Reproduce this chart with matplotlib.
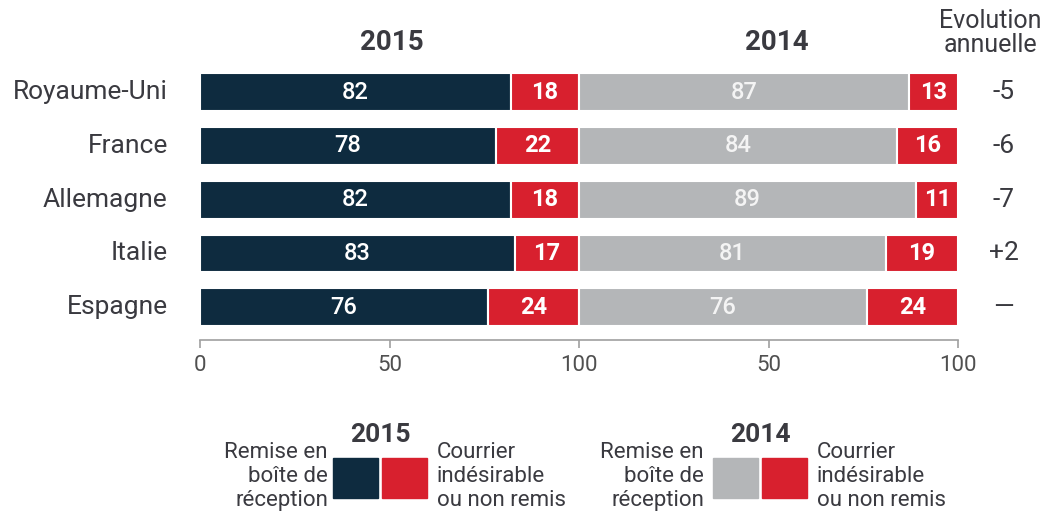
import matplotlib
matplotlib.use("Agg")
import matplotlib.pyplot as plt
from matplotlib.patches import Rectangle

# Chart data
countries = ["Royaume-Uni", "France", "Allemagne", "Italie", "Espagne"]
inbox_2015 = [82, 78, 82, 83, 76]
spam_2015 = [18, 22, 18, 17, 24]
inbox_2014 = [87, 84, 89, 81, 76]
spam_2014 = [13, 16, 11, 19, 24]
evolution = ["-5", "-6", "-7", "+2", "—"]
tick_pos = [0, 50, 100, 150, 200]
tick_labels = ["0", "50", "100", "50", "100"]

NAVY = "#0e2b3f"
RED = "#d8202e"
GREY = "#b4b6b8"
TEXT = "#3a3a40"

plt.rcParams["font.family"] = ["Roboto", "DejaVu Sans"]

fig = plt.figure(figsize=(10.47, 5.12), dpi=100)
ax = fig.add_axes([200 / 1047, 1 - 340 / 512, 758 / 1047, 280 / 512])

y = list(range(len(countries)))
h = 0.70
offset = 100  # right panel starts after the 2015 panel

ax.barh(y, inbox_2015, height=h, color=NAVY, edgecolor="white", linewidth=1.5)
ax.barh(y, spam_2015, left=inbox_2015, height=h, color=RED, edgecolor="white", linewidth=1.5)
ax.barh(y, inbox_2014, left=offset, height=h, color=GREY, edgecolor="white", linewidth=1.5)
ax.barh(y, spam_2014, left=[offset + v for v in inbox_2014], height=h,
        color=RED, edgecolor="white", linewidth=1.5)

for i in y:
    ax.text(inbox_2015[i] / 2, i, str(inbox_2015[i]), ha="center", va="center",
            color="white", fontsize=17, fontweight="medium")
    ax.text(inbox_2015[i] + spam_2015[i] / 2, i, str(spam_2015[i]), ha="center",
            va="center", color="white", fontsize=17, fontweight="bold")
    ax.text(offset + inbox_2014[i] / 2, i, str(inbox_2014[i]), ha="center",
            va="center", color="#f4f4f4", fontsize=17, fontweight="medium")
    ax.text(offset + inbox_2014[i] + spam_2014[i] / 2, i, str(spam_2014[i]),
            ha="center", va="center", color="white", fontsize=17, fontweight="bold")
    ax.text(-8.5, i, countries[i], ha="right", va="center", color=TEXT, fontsize=19)
    ax.text(212, i, evolution[i], ha="center", va="center", color=TEXT, fontsize=19)

ax.set_xlim(0, 200)
ax.set_ylim(len(countries) - 1 + 0.61, -0.6)
ax.set_xticks(tick_pos)
ax.set_xticklabels(tick_labels)
ax.set_yticks([])
for s in ["top", "right", "left"]:
    ax.spines[s].set_visible(False)
ax.spines["bottom"].set_color("#a0a0a0")
ax.spines["bottom"].set_linewidth(1.2)
ax.tick_params(axis="x", colors="#a0a0a0", length=6, width=1.2, labelsize=16,
               labelcolor="#505050", pad=5)
ax.spines["bottom"].set_bounds(0, 200)

# column headers
fig.text(392 / 1047, 1 - 42 / 512, "2015", ha="center", va="center",
         fontsize=20, fontweight="bold", color=TEXT)
fig.text(777 / 1047, 1 - 42 / 512, "2014", ha="center", va="center",
         fontsize=20, fontweight="bold", color=TEXT)
fig.text(990 / 1047, 1 - 33 / 512, "Evolution\nannuelle", ha="center", va="center",
         fontsize=18, color=TEXT, linespacing=1.0)

# legend blocks
def legend_block(x_left, x_mid, x_right, left_color, year):
    w, hh = 45 / 1047, 40 / 512
    y0 = 1 - 498 / 512
    fig.patches.append(Rectangle((x_mid - w - 2 / 1047, y0), w, hh, transform=fig.transFigure,
                                 color=left_color, figure=fig))
    fig.patches.append(Rectangle((x_mid + 2 / 1047, y0), w, hh, transform=fig.transFigure,
                                 color=RED, figure=fig))
    fig.text(x_mid, 1 - 435 / 512, year, ha="center", va="center", fontsize=19,
             fontweight="bold", color=TEXT)
    fig.text(x_left, 1 - 442 / 512, "Remise en\nboîte de\nréception", ha="right", va="top",
             fontsize=16, color=TEXT, linespacing=1.18)
    fig.text(x_right, 1 - 442 / 512, "Courrier\nindésirable\nou non remis", ha="left",
             va="top", fontsize=16, color=TEXT, linespacing=1.18)

legend_block(328 / 1047, 380 / 1047, 437 / 1047, NAVY, "2015")
legend_block(704 / 1047, 760 / 1047, 817 / 1047, GREY, "2014")

fig.savefig("out.png", dpi=100)
